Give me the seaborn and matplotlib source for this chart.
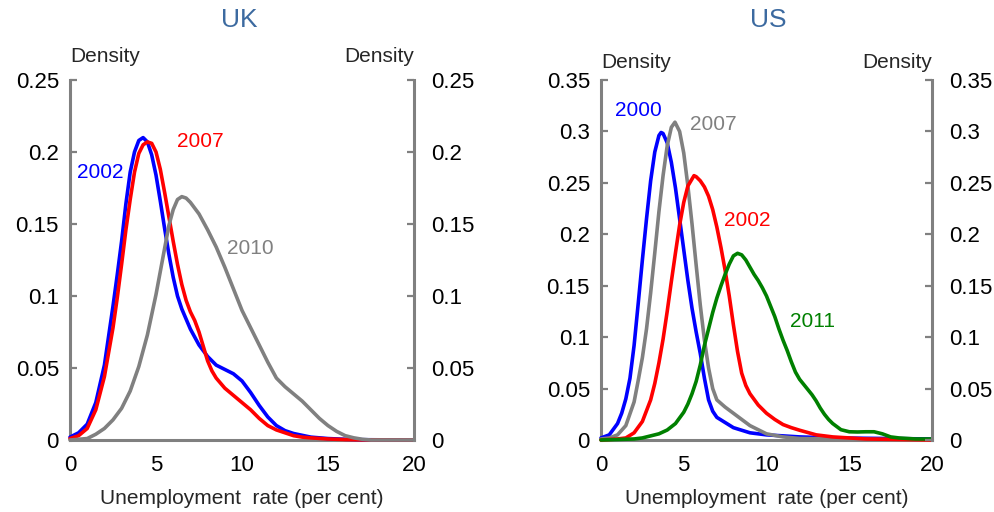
import matplotlib
matplotlib.use("Agg")
import matplotlib.pyplot as plt
import pandas as pd
import seaborn as sns

# ---- UK densities (unemployment rate, per cent -> density) ----
uk_2002_x = [0, 0.5, 1, 1.5, 2, 2.5, 2.75, 3, 3.25, 3.5, 3.75, 4, 4.25, 4.5, 4.75, 5, 5.25,
             5.5, 5.75, 6, 6.25, 6.5, 6.75, 7, 7.5, 8, 8.5, 9, 9.5, 10, 10.5, 11, 11.5, 12,
             12.5, 13, 14, 15, 16, 17, 20]
uk_2002_y = [0.002, 0.005, 0.011, 0.026, 0.052, 0.093, 0.115, 0.138, 0.164, 0.186, 0.2, 0.208,
             0.21, 0.207, 0.198, 0.184, 0.166, 0.147, 0.129, 0.113, 0.1, 0.091, 0.084, 0.077,
             0.066, 0.058, 0.052, 0.049, 0.046, 0.041, 0.033, 0.024, 0.016, 0.01, 0.0065,
             0.0045, 0.002, 0.001, 0.0005, 0.0002, 0.0]

uk_2007_x = [0, 0.5, 1, 1.5, 2, 2.5, 2.75, 3, 3.25, 3.5, 3.75, 4, 4.25, 4.5, 4.75, 5, 5.25,
             5.5, 5.75, 6, 6.25, 6.5, 6.75, 7, 7.25, 7.5, 7.75, 8, 8.25, 8.5, 9, 9.5, 10,
             10.5, 11, 11.5, 12, 13, 13.5, 14, 15, 16, 17, 20]
uk_2007_y = [0.001, 0.003, 0.008, 0.021, 0.044, 0.078, 0.099, 0.122, 0.146, 0.167, 0.186,
             0.199, 0.205, 0.207, 0.206, 0.2, 0.188, 0.172, 0.155, 0.138, 0.122, 0.108, 0.097,
             0.089, 0.083, 0.075, 0.065, 0.055, 0.048, 0.043, 0.036, 0.031, 0.026, 0.021,
             0.015, 0.01, 0.007, 0.003, 0.002, 0.0015, 0.0007, 0.0003, 0.0001, 0.0]

uk_2010_x = [0, 0.5, 1, 1.5, 2, 2.5, 3, 3.5, 4, 4.5, 4.75, 5, 5.25, 5.5, 5.75, 6, 6.25, 6.5,
             6.75, 7, 7.5, 8, 8.5, 9, 9.5, 10, 10.5, 11, 11.5, 12, 12.5, 13, 13.5, 14, 14.5,
             15, 15.5, 16, 16.5, 17, 17.5, 20]
uk_2010_y = [0.0, 0.0005, 0.001, 0.004, 0.008, 0.014, 0.022, 0.034, 0.051, 0.073, 0.087,
             0.101, 0.117, 0.133, 0.149, 0.16, 0.167, 0.169, 0.168, 0.165, 0.157, 0.146,
             0.134, 0.12, 0.105, 0.09, 0.078, 0.066, 0.054, 0.043, 0.037, 0.032, 0.027, 0.021,
             0.015, 0.01, 0.006, 0.003, 0.0015, 0.0005, 0.0, 0.0]

# ---- US densities ----
us_2000_x = [0, 0.5, 1, 1.25, 1.5, 1.75, 2, 2.25, 2.5, 2.75, 3, 3.25, 3.5, 3.63, 3.75, 4,
             4.25, 4.5, 4.75, 5, 5.25, 5.5, 5.75, 6, 6.25, 6.5, 6.75, 7, 7.5, 8, 9, 10, 12,
             14, 20]
us_2000_y = [0.002, 0.005, 0.016, 0.026, 0.04, 0.06, 0.092, 0.133, 0.175, 0.215, 0.252, 0.28,
             0.296, 0.299, 0.298, 0.289, 0.27, 0.245, 0.215, 0.185, 0.155, 0.128, 0.105, 0.084,
             0.06, 0.039, 0.028, 0.022, 0.017, 0.012, 0.007, 0.005, 0.003, 0.002, 0.001]

us_2007_x = [0, 0.5, 1, 1.5, 2, 2.25, 2.5, 2.75, 3, 3.25, 3.5, 3.75, 4, 4.25, 4.47, 4.75, 5,
             5.25, 5.5, 5.75, 6, 6.25, 6.5, 6.75, 7, 7.5, 8, 8.5, 9, 9.5, 10, 11, 12, 14, 20]
us_2007_y = [0.001, 0.002, 0.005, 0.014, 0.037, 0.058, 0.08, 0.108, 0.143, 0.182, 0.222,
             0.257, 0.286, 0.304, 0.309, 0.3, 0.279, 0.247, 0.21, 0.17, 0.131, 0.097, 0.07,
             0.05, 0.039, 0.032, 0.026, 0.02, 0.014, 0.01, 0.006, 0.003, 0.0015, 0.001, 0.0]

us_2002_x = [0, 1, 1.5, 2, 2.5, 3, 3.25, 3.5, 3.75, 4, 4.25, 4.5, 4.75, 5, 5.25, 5.62, 5.75,
             6, 6.25, 6.5, 6.75, 7, 7.25, 7.5, 7.75, 8, 8.25, 8.5, 8.75, 9, 9.5, 10, 10.5, 11,
             11.5, 12, 13, 14, 16, 20]
us_2002_y = [0.0, 0.001, 0.002, 0.007, 0.018, 0.039, 0.055, 0.075, 0.098, 0.125, 0.154, 0.182,
             0.209, 0.231, 0.247, 0.257, 0.256, 0.252, 0.246, 0.237, 0.224, 0.207, 0.187,
             0.165, 0.14, 0.112, 0.086, 0.065, 0.053, 0.045, 0.034, 0.026, 0.02, 0.015, 0.012,
             0.0095, 0.005, 0.003, 0.001, 0.0]

us_2011_x = [0, 1, 2, 2.5, 3, 3.5, 4, 4.5, 5, 5.25, 5.5, 5.75, 6, 6.25, 6.5, 6.75, 7, 7.25,
             7.5, 7.75, 8, 8.25, 8.5, 8.75, 9, 9.25, 9.5, 9.75, 10, 10.25, 10.5, 10.75, 11,
             11.25, 11.5, 11.75, 12, 12.25, 12.5, 12.75, 13, 13.25, 13.5, 13.75, 14, 14.5, 15,
             15.5, 16, 16.5, 17, 17.5, 18, 19, 20]
us_2011_y = [0.0, 0.0005, 0.001, 0.002, 0.004, 0.006, 0.0097, 0.016, 0.027, 0.035, 0.045,
             0.057, 0.073, 0.092, 0.108, 0.124, 0.138, 0.15, 0.161, 0.171, 0.179, 0.1815, 0.18,
             0.175, 0.168, 0.161, 0.155, 0.148, 0.14, 0.13, 0.12, 0.108, 0.097, 0.087, 0.076,
             0.066, 0.059, 0.054, 0.049, 0.044, 0.038, 0.031, 0.025, 0.02, 0.016, 0.01, 0.008,
             0.0078, 0.008, 0.008, 0.006, 0.003, 0.002, 0.001, 0.001]

x_ticks = [0, 5, 10, 15, 20]
uk_yticks = [0, 0.05, 0.1, 0.15, 0.2, 0.25]
uk_ylabels = ["0", "0.05", "0.1", "0.15", "0.2", "0.25"]
us_yticks = [0, 0.05, 0.1, 0.15, 0.2, 0.25, 0.3, 0.35]
us_ylabels = ["0", "0.05", "0.1", "0.15", "0.2", "0.25", "0.3", "0.35"]

uk_series = [
    ("2002", uk_2002_x, uk_2002_y, "#0000ff", (1.74, 0.186)),
    ("2007", uk_2007_x, uk_2007_y, "#ff0000", (7.56, 0.207)),
    ("2010", uk_2010_x, uk_2010_y, "#808080", (10.47, 0.133)),
]
us_series = [
    ("2000", us_2000_x, us_2000_y, "#0000ff", (2.24, 0.32)),
    ("2007", us_2007_x, us_2007_y, "#808080", (6.77, 0.307)),
    ("2002", us_2002_x, us_2002_y, "#ff0000", (8.82, 0.213)),
    ("2011", us_2011_x, us_2011_y, "#008000", (12.75, 0.115)),
]

sns.set_theme(style="white")
plt.rcParams["font.family"] = ["Liberation Sans", "DejaVu Sans"]

AXIS_GREY = "#808080"
TITLE_BLUE = "#3c6aa0"

fig = plt.figure(figsize=(9.95, 5.12), dpi=100)
ax_uk = fig.add_axes([70 / 995, 72 / 512, 344 / 995, 360 / 512])
ax_us = fig.add_axes([601 / 995, 72 / 512, 331 / 995, 360 / 512])

# main heading sits above the top edge; only its descenders show
fig.text(258 / 995, 1 + 6 / 512, "Unemployment", color=TITLE_BLUE, fontsize=17,
         fontweight="bold", ha="left", va="baseline")


def draw_panel(ax, series, yticks, ylabels, title, title_x, dens_y):
    for year, xs, ys, color, (lx, ly) in series:
        df = pd.DataFrame({"rate": xs, "density": ys})
        sns.lineplot(data=df, x="rate", y="density", ax=ax, color=color,
                     linewidth=2.6, zorder=3, clip_on=False, sort=True,
                     solid_joinstyle="round", solid_capstyle="round")
        ax.text(lx, ly, year, color=color, fontsize=15, ha="center", va="center")

    ymax = yticks[-1]
    ax.set_xlim(0, 20)
    ax.set_ylim(0, ymax)
    ax.set_xticks(x_ticks)
    ax.set_xticklabels([str(t) for t in x_ticks])
    ax.set_yticks(yticks)
    ax.set_yticklabels(ylabels)
    ax.set_xlabel("Unemployment  rate (per cent)", fontsize=15, labelpad=9)
    ax.set_ylabel("")

    for side in ("left", "bottom"):
        ax.spines[side].set_color(AXIS_GREY)
        ax.spines[side].set_linewidth(2.2)
        ax.spines[side].set_zorder(2)
    ax.spines["top"].set_visible(False)
    ax.spines["right"].set_visible(False)
    ax.tick_params(axis="both", direction="in", length=5, width=1.6, color=AXIS_GREY,
                   labelsize=16, labelcolor="black")
    ax.tick_params(axis="x", pad=11)
    ax.tick_params(axis="y", pad=8)

    # right-hand density scale
    axr = ax.twinx()
    axr.set_ylim(0, ymax)
    axr.set_yticks(yticks)
    axr.set_yticklabels(ylabels)
    for side in ("left", "bottom", "top"):
        axr.spines[side].set_visible(False)
    axr.spines["right"].set_color(AXIS_GREY)
    axr.spines["right"].set_linewidth(2.2)
    axr.tick_params(axis="y", direction="in", length=5, width=1.6, color=AXIS_GREY,
                    labelsize=16, labelcolor="black", pad=12)
    axr.grid(False)
    ax.grid(False)

    ax.text(0.0, dens_y, "Density", transform=ax.transAxes, fontsize=15,
            ha="left", va="center")
    ax.text(1.0, dens_y, "Density", transform=ax.transAxes, fontsize=15,
            ha="right", va="center")
    fig.text(title_x / 995, 1 - 20 / 512, title, color=TITLE_BLUE, fontsize=19,
             ha="center", va="center")


draw_panel(ax_uk, uk_series, uk_yticks, uk_ylabels, "UK", 239, 1 + 24 / 360)
draw_panel(ax_us, us_series, us_yticks, us_ylabels, "US", 768, 1 + 18 / 360)

fig.savefig("out.png", dpi=100)
